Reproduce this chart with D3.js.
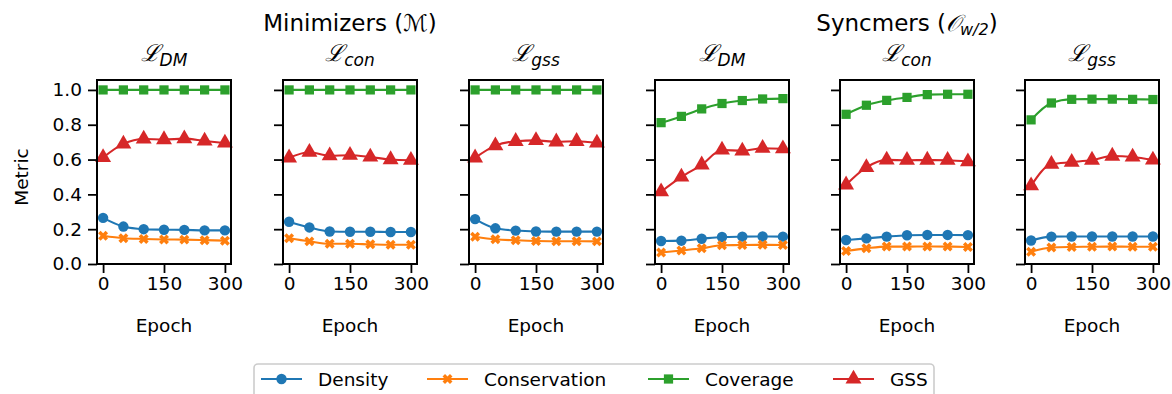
<!DOCTYPE html>
<html lang="en">
<head>
  <meta charset="utf-8">
  <title>Minimizers vs Syncmers metrics</title>
  <style>
    body { margin: 0; background: #fff; }
    svg { display: block; font-family: "DejaVu Sans", sans-serif; }
    .axis path, .axis line { stroke: #000; stroke-width: 1.8; }
    .axis text { font-size: 18.5px; fill: #000; font-family: "DejaVu Sans", sans-serif; }
  </style>
  <script src="https://cdn.jsdelivr.net/npm/d3@7"></script>
</head>
<body>
<script>
    // ---- data ----
    let epochs = [0, 50, 100, 150, 200, 250, 300]
    let groupTitles = ["Minimizers (", "Syncmers ("]
    let lossNames = ["DM", "con", "gss", "DM", "con", "gss"]
    let seriesNames = ["Density", "Conservation", "Coverage", "GSS"]
    let seriesColors = ["#1f77b4", "#ff7f0e", "#2ca02c", "#d62728"]
    let yTicks = [0.0, 0.2, 0.4, 0.6, 0.8, 1.0]
    let xTicks = [0, 150, 300]

    // one row per panel: M-DM, M-con, M-gss, S-DM, S-con, S-gss
    let density = [
        [0.265, 0.215, 0.200, 0.197, 0.196, 0.193, 0.193],
        [0.243, 0.210, 0.187, 0.185, 0.185, 0.184, 0.184],
        [0.258, 0.205, 0.192, 0.187, 0.186, 0.186, 0.186],
        [0.132, 0.134, 0.145, 0.155, 0.157, 0.158, 0.157],
        [0.138, 0.147, 0.157, 0.165, 0.167, 0.167, 0.166],
        [0.135, 0.157, 0.158, 0.158, 0.158, 0.158, 0.158]
    ]
    let conservation = [
        [0.162, 0.148, 0.144, 0.141, 0.140, 0.137, 0.134],
        [0.148, 0.130, 0.116, 0.116, 0.113, 0.111, 0.111],
        [0.157, 0.142, 0.136, 0.132, 0.131, 0.131, 0.130],
        [0.066, 0.078, 0.090, 0.108, 0.109, 0.110, 0.109],
        [0.075, 0.090, 0.100, 0.100, 0.101, 0.100, 0.098],
        [0.070, 0.095, 0.098, 0.099, 0.100, 0.099, 0.099]
    ]
    let coverage = [
        [1.0, 1.0, 1.0, 1.0, 1.0, 1.0, 1.0],
        [1.0, 1.0, 1.0, 1.0, 1.0, 1.0, 1.0],
        [1.0, 1.0, 1.0, 1.0, 1.0, 1.0, 1.0],
        [0.812, 0.848, 0.891, 0.922, 0.939, 0.948, 0.950],
        [0.860, 0.912, 0.940, 0.957, 0.973, 0.975, 0.975],
        [0.828, 0.925, 0.946, 0.947, 0.947, 0.946, 0.945]
    ]
    let gss = [
        [0.612, 0.690, 0.718, 0.715, 0.720, 0.707, 0.695],
        [0.610, 0.642, 0.622, 0.625, 0.615, 0.600, 0.596],
        [0.610, 0.680, 0.705, 0.710, 0.702, 0.705, 0.695],
        [0.415, 0.500, 0.570, 0.655, 0.650, 0.665, 0.662],
        [0.455, 0.555, 0.598, 0.596, 0.597, 0.596, 0.588],
        [0.450, 0.573, 0.585, 0.597, 0.620, 0.615, 0.598]
    ]
    let allSeries = [density, conservation, coverage, gss]

    // ---- layout ----
    let width = 1172
    let height = 394
    let panelLefts = [97, 283, 469, 655, 840, 1025]
    let panelW = 134
    let plotTop = 80
    let plotBottom = 264

    // marker 1 is a filled "X": a cross turned by 45 degrees
    let symbols = [d3.symbolCircle, d3.symbolCross, d3.symbolSquare, d3.symbolTriangle]
    let symbolSizes = [85, 62, 85, 110]
    let symbolRot = [0, 45, 0, 0]

    let svg = d3.select("body").append("svg")
        .attr("width", width)
        .attr("height", height)

    let yScale = d3.scaleLinear().domain([0, 1.057]).range([plotBottom, plotTop])

    let drawMarker = (g, k, x, y) => {
        g.append("path")
            .attr("d", d3.symbol().type(symbols[k]).size(symbolSizes[k])())
            .attr("transform", `translate(${x},${y}) rotate(${symbolRot[k]})`)
            .attr("fill", seriesColors[k])
    }

    panelLefts.forEach((left, p) => {
        let xScale = d3.scaleLinear().domain([-15, 315]).range([left, left + panelW])
        let g = svg.append("g")

        // lines + markers
        allSeries.forEach((series, k) => {
            let vals = series[p]
            let line = d3.line()
                .x((d, i) => xScale(epochs[i]))
                .y(d => yScale(d))
                .curve(d3.curveMonotoneX)
            g.append("path")
                .attr("d", line(vals))
                .attr("fill", "none")
                .attr("stroke", seriesColors[k])
                .attr("stroke-width", 2.1)
            vals.forEach((v, i) => drawMarker(g, k, xScale(epochs[i]), yScale(v)))
        })

        // axes
        let yAxis = d3.axisLeft(yScale).tickValues(yTicks).tickSize(9).tickPadding(6)
            .tickFormat(p === 0 ? d3.format(".1f") : () => "")
        g.append("g").attr("class", "axis")
            .attr("transform", `translate(${left},0)`)
            .call(yAxis)
            .call(a => a.select(".domain").remove())

        let xAxis = d3.axisBottom(xScale).tickValues(xTicks).tickSize(9).tickPadding(4)
        g.append("g").attr("class", "axis")
            .attr("transform", `translate(0,${plotBottom})`)
            .call(xAxis)
            .call(a => a.select(".domain").remove())

        g.append("rect")
            .attr("x", left).attr("y", plotTop)
            .attr("width", panelW).attr("height", plotBottom - plotTop)
            .attr("fill", "none").attr("stroke", "#000").attr("stroke-width", 2)

        // x label
        g.append("text")
            .attr("x", left + panelW / 2).attr("y", 332)
            .attr("text-anchor", "middle")
            .attr("font-size", 18.5)
            .text("Epoch")

        // loss subtitle
        let t = g.append("text")
            .attr("x", left + panelW / 2).attr("y", 61)
            .attr("text-anchor", "middle")
            .attr("font-size", 23)
        t.append("tspan").attr("font-family", "DejaVu Serif").attr("font-style", "italic").text("\u2112")
        t.append("tspan").attr("font-size", 17).attr("font-style", "italic").attr("dy", 5).text(lossNames[p])
    })

    // group titles
    let t1 = svg.append("text")
        .attr("x", panelLefts[1] + panelW / 2).attr("y", 31)
        .attr("text-anchor", "middle").attr("font-size", 23)
    t1.append("tspan").text(groupTitles[0])
    t1.append("tspan").attr("font-style", "italic").text("\u2133")
    t1.append("tspan").text(")")

    let t2 = svg.append("text")
        .attr("x", panelLefts[4] + panelW / 2).attr("y", 31)
        .attr("text-anchor", "middle").attr("font-size", 23)
    t2.append("tspan").text(groupTitles[1])
    t2.append("tspan").attr("font-style", "italic").text("\uD835\uDCAA")
    t2.append("tspan").attr("font-size", 16).attr("font-style", "italic").attr("dy", 4).text("w/2")
    t2.append("tspan").attr("dy", -4).text(")")

    // y label
    svg.append("text")
        .attr("transform", "translate(28,177) rotate(-90)")
        .attr("text-anchor", "middle")
        .attr("font-size", 18.5)
        .text("Metric")

    // legend
    let legend = svg.append("g")
    legend.append("rect")
        .attr("x", 254).attr("y", 364).attr("width", 680).attr("height", 40)
        .attr("rx", 4)
        .attr("fill", "#fff").attr("stroke", "#cccccc").attr("stroke-width", 1.6)
    let legendX = [261, 427, 648, 833]
    seriesNames.forEach((name, k) => {
        let lx = legendX[k]
        let ly = 379
        legend.append("line")
            .attr("x1", lx).attr("x2", lx + 41).attr("y1", ly).attr("y2", ly)
            .attr("stroke", seriesColors[k]).attr("stroke-width", 2.1)
        drawMarker(legend, k, lx + 20.5, ly)
        legend.append("text")
            .attr("x", lx + 57).attr("y", ly + 6.5)
            .attr("font-size", 18.5)
            .text(name)
    })
</script>
</body>
</html>
